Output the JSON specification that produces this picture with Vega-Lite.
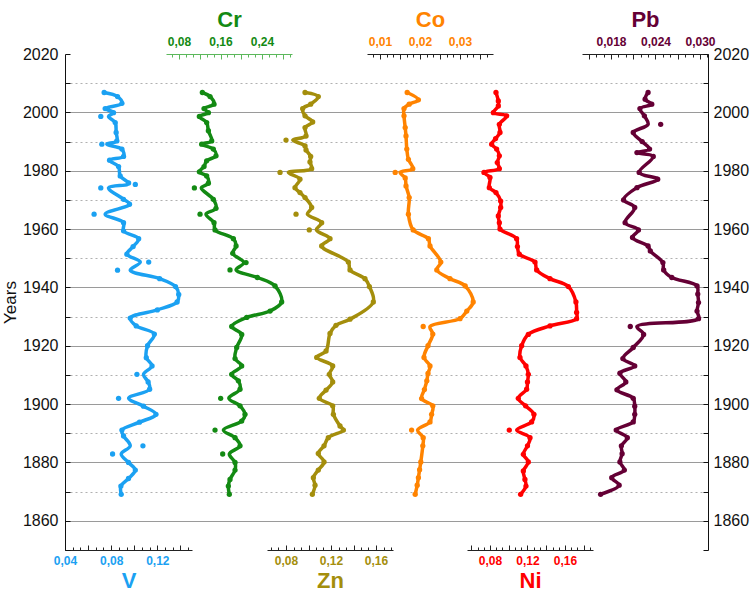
{
"$schema":"https://vega.github.io/schema/vega-lite/v6.json",
"width":643,"height":496,"autosize":"none",
"padding":{"left":65,"top":54,"right":44,"bottom":44},
"background":"white",
"config":{"view":{"stroke":null},
"axis":{"labelFont":"Liberation Sans","titleFont":"Liberation Sans","labelFlush":false,"labelOverlap":false,"labelBound":false,"domainColor":"#222","tickColor":"#222","grid":false},
"axisX":{"labelFontWeight":"bold","labelFontSize":12,"titleFontWeight":"bold","titleFontSize":22},
"axisY":{"labelFontSize":16,"labelColor":"#111","titleFontSize":17,"titleFontWeight":"normal","titleColor":"#111"}},
"datasets":{
"V":[{"year":1869.1,"value":0.0887,"fit":0.0887},{"year":1871.9,"value":0.0884,"fit":0.0884},{"year":1874.5,"value":0.095,"fit":0.095},{"year":1877.4,"value":0.1009,"fit":0.1009},{"year":1880.0,"value":0.095,"fit":0.095},{"year":1882.9,"value":0.0812,"fit":0.0887},{"year":1885.7,"value":0.1075,"fit":0.0965},{"year":1889.1,"value":0.0907,"fit":0.0907},{"year":1891.1,"value":0.0893,"fit":0.0893},{"year":1893.8,"value":0.1045,"fit":0.1045},{"year":1896.5,"value":0.1188,"fit":0.1188},{"year":1899.3,"value":0.108,"fit":0.108},{"year":1902.0,"value":0.0864,"fit":0.0951},{"year":1905.1,"value":0.1133,"fit":0.1133},{"year":1907.6,"value":0.112,"fit":0.112},{"year":1910.2,"value":0.1023,"fit":0.108},{"year":1913.1,"value":0.1154,"fit":0.1154},{"year":1915.9,"value":0.1104,"fit":0.1104},{"year":1920.0,"value":0.1115,"fit":0.1115},{"year":1924.0,"value":0.1174,"fit":0.1174},{"year":1926.8,"value":0.1017,"fit":0.1017},{"year":1929.5,"value":0.0965,"fit":0.0965},{"year":1932.3,"value":0.12,"fit":0.12},{"year":1935.0,"value":0.1371,"fit":0.1371},{"year":1937.6,"value":0.1385,"fit":0.1385},{"year":1940.3,"value":0.1357,"fit":0.1357},{"year":1943.0,"value":0.122,"fit":0.122},{"year":1945.9,"value":0.0855,"fit":0.0965},{"year":1948.7,"value":0.1125,"fit":0.1052},{"year":1951.4,"value":0.0936,"fit":0.0936},{"year":1954.0,"value":0.099,"fit":0.099},{"year":1956.7,"value":0.1038,"fit":0.1038},{"year":1959.4,"value":0.0907,"fit":0.0907},{"year":1962.2,"value":0.0907,"fit":0.0907},{"year":1965.1,"value":0.0652,"fit":0.0748},{"year":1968.5,"value":0.0959,"fit":0.0959},{"year":1970.2,"value":0.0907,"fit":0.0907},{"year":1974.1,"value":0.071,"fit":0.0777},{"year":1975.3,"value":0.1009,"fit":0.094},{"year":1975.8,"value":0.0951,"fit":0.0951},{"year":1978.2,"value":0.0878,"fit":0.0878},{"year":1981.4,"value":0.0864,"fit":0.0864},{"year":1983.6,"value":0.0786,"fit":0.0786},{"year":1984.9,"value":0.0907,"fit":0.0907},{"year":1987.4,"value":0.0893,"fit":0.0893},{"year":1989.1,"value":0.0719,"fit":0.0762},{"year":1990.2,"value":0.0849,"fit":0.0849},{"year":1993.1,"value":0.0843,"fit":0.0843},{"year":1996.5,"value":0.0835,"fit":0.0835},{"year":1998.6,"value":0.071,"fit":0.0777},{"year":1999.9,"value":0.082,"fit":0.082},{"year":2001.3,"value":0.0748,"fit":0.0748},{"year":2003.1,"value":0.0893,"fit":0.0893},{"year":2005.4,"value":0.0855,"fit":0.0855},{"year":2006.8,"value":0.0739,"fit":0.0739}],
"Cr":[{"year":1869.1,"value":0.177,"fit":0.177},{"year":1871.9,"value":0.1751,"fit":0.1751},{"year":1874.2,"value":0.1783,"fit":0.1783},{"year":1877.4,"value":0.188,"fit":0.188},{"year":1880.0,"value":0.188,"fit":0.188},{"year":1882.9,"value":0.1642,"fit":0.177},{"year":1885.7,"value":0.1976,"fit":0.1976},{"year":1888.5,"value":0.188,"fit":0.188},{"year":1891.1,"value":0.1494,"fit":0.1655},{"year":1894.2,"value":0.2008,"fit":0.2008},{"year":1896.5,"value":0.2072,"fit":0.2072},{"year":1899.4,"value":0.1976,"fit":0.1976},{"year":1902.0,"value":0.1603,"fit":0.176},{"year":1905.1,"value":0.1976,"fit":0.1976},{"year":1908.0,"value":0.1944,"fit":0.1944},{"year":1910.2,"value":0.1815,"fit":0.1815},{"year":1913.1,"value":0.2008,"fit":0.2008},{"year":1915.6,"value":0.188,"fit":0.188},{"year":1919.4,"value":0.1912,"fit":0.1912},{"year":1923.9,"value":0.2009,"fit":0.2009},{"year":1926.6,"value":0.1816,"fit":0.1816},{"year":1929.7,"value":0.2105,"fit":0.2105},{"year":1931.9,"value":0.2555,"fit":0.2555},{"year":1935.0,"value":0.2779,"fit":0.2779},{"year":1940.5,"value":0.2651,"fit":0.2651},{"year":1943.4,"value":0.231,"fit":0.231},{"year":1946.0,"value":0.1783,"fit":0.19},{"year":1948.5,"value":0.2092,"fit":0.205},{"year":1951.7,"value":0.1835,"fit":0.1835},{"year":1954.2,"value":0.19,"fit":0.19},{"year":1956.7,"value":0.1848,"fit":0.1848},{"year":1959.7,"value":0.1494,"fit":0.1494},{"year":1962.2,"value":0.1475,"fit":0.1475},{"year":1965.1,"value":0.1205,"fit":0.132},{"year":1967.1,"value":0.1513,"fit":0.1513},{"year":1970.2,"value":0.1462,"fit":0.1462},{"year":1974.1,"value":0.1096,"fit":0.123},{"year":1975.7,"value":0.1366,"fit":0.1366},{"year":1978.2,"value":0.1333,"fit":0.1333},{"year":1979.6,"value":0.1192,"fit":0.1192},{"year":1981.4,"value":0.1282,"fit":0.1282},{"year":1983.4,"value":0.1333,"fit":0.1333},{"year":1985.1,"value":0.1513,"fit":0.1513},{"year":1987.4,"value":0.1462,"fit":0.1462},{"year":1989.1,"value":0.1237,"fit":0.1237},{"year":1990.2,"value":0.143,"fit":0.143},{"year":1993.7,"value":0.1366,"fit":0.1366},{"year":1996.5,"value":0.1333,"fit":0.1333},{"year":1998.6,"value":0.1192,"fit":0.1192},{"year":1999.9,"value":0.1366,"fit":0.1366},{"year":2001.3,"value":0.1282,"fit":0.1282},{"year":2002.8,"value":0.1475,"fit":0.1475},{"year":2005.4,"value":0.1398,"fit":0.1398},{"year":2006.8,"value":0.125,"fit":0.125}],
"Zn":[{"year":1869.1,"value":0.1034,"fit":0.1034},{"year":1872.2,"value":0.1058,"fit":0.1058},{"year":1874.8,"value":0.1043,"fit":0.1043},{"year":1877.4,"value":0.1087,"fit":0.1087},{"year":1880.2,"value":0.1138,"fit":0.1138},{"year":1883.1,"value":0.1087,"fit":0.1087},{"year":1885.7,"value":0.1138,"fit":0.1138},{"year":1888.5,"value":0.1176,"fit":0.1176},{"year":1891.1,"value":0.131,"fit":0.131},{"year":1892.5,"value":0.128,"fit":0.128},{"year":1896.5,"value":0.1221,"fit":0.1221},{"year":1899.4,"value":0.1215,"fit":0.1215},{"year":1902.0,"value":0.1096,"fit":0.1096},{"year":1904.8,"value":0.1156,"fit":0.1156},{"year":1907.6,"value":0.1215,"fit":0.1215},{"year":1910.2,"value":0.1185,"fit":0.1185},{"year":1913.1,"value":0.1215,"fit":0.1215},{"year":1916.0,"value":0.1073,"fit":0.1073},{"year":1918.2,"value":0.1156,"fit":0.1156},{"year":1924.2,"value":0.1191,"fit":0.1191},{"year":1927.0,"value":0.1244,"fit":0.1244},{"year":1929.1,"value":0.1369,"fit":0.1369},{"year":1935.0,"value":0.1576,"fit":0.1576},{"year":1940.3,"value":0.1541,"fit":0.1541},{"year":1943.0,"value":0.1502,"fit":0.1502},{"year":1946.0,"value":0.1369,"fit":0.1369},{"year":1948.7,"value":0.1354,"fit":0.1354},{"year":1954.2,"value":0.1117,"fit":0.1117},{"year":1956.7,"value":0.1191,"fit":0.1191},{"year":1959.7,"value":0.1007,"fit":0.107},{"year":1962.2,"value":0.1117,"fit":0.1117},{"year":1965.1,"value":0.0889,"fit":0.099},{"year":1967.4,"value":0.1028,"fit":0.1028},{"year":1970.8,"value":0.0969,"fit":0.0969},{"year":1972.5,"value":0.0924,"fit":0.0924},{"year":1974.2,"value":0.088,"fit":0.088},{"year":1977.1,"value":0.0924,"fit":0.0924},{"year":1979.4,"value":0.0747,"fit":0.0821},{"year":1980.7,"value":0.1028,"fit":0.1028},{"year":1983.0,"value":0.1013,"fit":0.1013},{"year":1984.9,"value":0.1019,"fit":0.1019},{"year":1987.1,"value":0.0978,"fit":0.0978},{"year":1988.5,"value":0.0969,"fit":0.0969},{"year":1990.5,"value":0.08,"fit":0.086},{"year":1991.9,"value":0.0978,"fit":0.0978},{"year":1994.8,"value":0.0969,"fit":0.0969},{"year":1996.7,"value":0.1037,"fit":0.1037},{"year":1998.8,"value":0.0969,"fit":0.0969},{"year":2001.3,"value":0.0948,"fit":0.0948},{"year":2002.8,"value":0.1019,"fit":0.1019},{"year":2005.4,"value":0.1087,"fit":0.1087},{"year":2006.8,"value":0.0969,"fit":0.0969}],
"Co":[{"year":1869.1,"value":0.0188,"fit":0.0188},{"year":1872.2,"value":0.0193,"fit":0.0193},{"year":1874.8,"value":0.0196,"fit":0.0196},{"year":1877.5,"value":0.0199,"fit":0.0199},{"year":1880.2,"value":0.0202,"fit":0.0202},{"year":1885.7,"value":0.0207,"fit":0.0207},{"year":1888.5,"value":0.0208,"fit":0.0208},{"year":1891.1,"value":0.0179,"fit":0.0194},{"year":1893.9,"value":0.0225,"fit":0.0225},{"year":1896.5,"value":0.0229,"fit":0.0229},{"year":1899.4,"value":0.0232,"fit":0.0232},{"year":1901.9,"value":0.0204,"fit":0.0204},{"year":1905.0,"value":0.0211,"fit":0.0211},{"year":1908.0,"value":0.0217,"fit":0.0217},{"year":1910.5,"value":0.022,"fit":0.022},{"year":1913.1,"value":0.0225,"fit":0.0225},{"year":1916.0,"value":0.021,"fit":0.021},{"year":1920.0,"value":0.022,"fit":0.022},{"year":1924.0,"value":0.0232,"fit":0.0232},{"year":1926.6,"value":0.0208,"fit":0.0225},{"year":1929.3,"value":0.03,"fit":0.03},{"year":1931.9,"value":0.0317,"fit":0.0317},{"year":1935.0,"value":0.0333,"fit":0.0333},{"year":1940.5,"value":0.0313,"fit":0.0313},{"year":1943.0,"value":0.0275,"fit":0.0275},{"year":1946.0,"value":0.0242,"fit":0.0242},{"year":1948.7,"value":0.0252,"fit":0.0252},{"year":1954.2,"value":0.0225,"fit":0.0225},{"year":1956.7,"value":0.0221,"fit":0.0221},{"year":1959.7,"value":0.0183,"fit":0.0183},{"year":1965.1,"value":0.0171,"fit":0.0171},{"year":1970.8,"value":0.0173,"fit":0.0173},{"year":1974.8,"value":0.0165,"fit":0.0165},{"year":1977.5,"value":0.0163,"fit":0.0163},{"year":1979.4,"value":0.0138,"fit":0.015},{"year":1980.7,"value":0.0182,"fit":0.0182},{"year":1983.9,"value":0.0171,"fit":0.0171},{"year":1987.4,"value":0.0167,"fit":0.0167},{"year":1991.9,"value":0.0165,"fit":0.0165},{"year":1994.8,"value":0.0163,"fit":0.0163},{"year":1998.8,"value":0.016,"fit":0.016},{"year":2001.3,"value":0.016,"fit":0.016},{"year":2002.8,"value":0.0173,"fit":0.0173},{"year":2004.3,"value":0.0196,"fit":0.0196},{"year":2006.8,"value":0.0168,"fit":0.0168}],
"Ni":[{"year":1869.1,"value":0.1127,"fit":0.1127},{"year":1871.9,"value":0.1184,"fit":0.1184},{"year":1874.2,"value":0.1173,"fit":0.1173},{"year":1877.1,"value":0.1156,"fit":0.1156},{"year":1880.2,"value":0.1209,"fit":0.1209},{"year":1882.8,"value":0.1156,"fit":0.1156},{"year":1885.7,"value":0.12,"fit":0.12},{"year":1888.5,"value":0.1227,"fit":0.1227},{"year":1891.1,"value":0.1006,"fit":0.1085},{"year":1893.9,"value":0.1244,"fit":0.1244},{"year":1896.5,"value":0.1269,"fit":0.1269},{"year":1899.4,"value":0.118,"fit":0.118},{"year":1902.0,"value":0.1102,"fit":0.1102},{"year":1905.1,"value":0.1191,"fit":0.1191},{"year":1907.6,"value":0.12,"fit":0.12},{"year":1910.2,"value":0.1209,"fit":0.1209},{"year":1913.1,"value":0.1184,"fit":0.1184},{"year":1916.0,"value":0.112,"fit":0.112},{"year":1920.0,"value":0.1138,"fit":0.1138},{"year":1923.9,"value":0.1209,"fit":0.1209},{"year":1926.8,"value":0.144,"fit":0.144},{"year":1929.3,"value":0.1724,"fit":0.1724},{"year":1931.4,"value":0.1724,"fit":0.1724},{"year":1935.0,"value":0.1717,"fit":0.1717},{"year":1940.3,"value":0.1636,"fit":0.1636},{"year":1943.0,"value":0.144,"fit":0.144},{"year":1946.0,"value":0.1298,"fit":0.1298},{"year":1948.7,"value":0.128,"fit":0.128},{"year":1951.4,"value":0.1113,"fit":0.1113},{"year":1954.0,"value":0.1093,"fit":0.1093},{"year":1956.7,"value":0.1084,"fit":0.1084},{"year":1960.0,"value":0.0907,"fit":0.0907},{"year":1962.2,"value":0.09,"fit":0.09},{"year":1964.5,"value":0.0889,"fit":0.0889},{"year":1967.4,"value":0.0914,"fit":0.0914},{"year":1969.6,"value":0.0914,"fit":0.0914},{"year":1972.5,"value":0.0864,"fit":0.0864},{"year":1974.2,"value":0.0793,"fit":0.0793},{"year":1977.7,"value":0.08,"fit":0.08},{"year":1979.4,"value":0.0736,"fit":0.0736},{"year":1980.7,"value":0.09,"fit":0.09},{"year":1982.8,"value":0.0878,"fit":0.0878},{"year":1985.1,"value":0.09,"fit":0.09},{"year":1987.4,"value":0.0871,"fit":0.0871},{"year":1989.1,"value":0.0818,"fit":0.0818},{"year":1991.0,"value":0.086,"fit":0.086},{"year":1993.1,"value":0.0907,"fit":0.0907},{"year":1995.9,"value":0.09,"fit":0.09},{"year":1998.8,"value":0.0978,"fit":0.0978},{"year":1999.9,"value":0.0836,"fit":0.0836},{"year":2002.2,"value":0.0889,"fit":0.0889},{"year":2003.9,"value":0.0889,"fit":0.0889},{"year":2006.8,"value":0.0864,"fit":0.0864}],
"Pb":[{"year":1869.1,"value":0.0166,"fit":0.0166},{"year":1872.2,"value":0.0191,"fit":0.0191},{"year":1874.8,"value":0.0181,"fit":0.0181},{"year":1877.4,"value":0.0198,"fit":0.0198},{"year":1880.2,"value":0.0192,"fit":0.0192},{"year":1883.0,"value":0.0195,"fit":0.0195},{"year":1885.7,"value":0.0194,"fit":0.0194},{"year":1888.5,"value":0.0202,"fit":0.0202},{"year":1891.1,"value":0.0187,"fit":0.0187},{"year":1893.9,"value":0.021,"fit":0.021},{"year":1896.5,"value":0.0212,"fit":0.0212},{"year":1899.3,"value":0.0212,"fit":0.0212},{"year":1902.0,"value":0.021,"fit":0.021},{"year":1904.9,"value":0.0188,"fit":0.0188},{"year":1907.6,"value":0.02,"fit":0.02},{"year":1910.6,"value":0.0192,"fit":0.0192},{"year":1913.1,"value":0.0212,"fit":0.0212},{"year":1915.6,"value":0.0196,"fit":0.0196},{"year":1919.4,"value":0.021,"fit":0.021},{"year":1923.9,"value":0.0224,"fit":0.0224},{"year":1926.6,"value":0.0206,"fit":0.0215},{"year":1929.3,"value":0.0298,"fit":0.0298},{"year":1931.9,"value":0.0296,"fit":0.0296},{"year":1934.8,"value":0.0298,"fit":0.0298},{"year":1937.7,"value":0.0297,"fit":0.0297},{"year":1940.5,"value":0.0296,"fit":0.0296},{"year":1943.4,"value":0.0262,"fit":0.0262},{"year":1946.0,"value":0.0251,"fit":0.0251},{"year":1948.5,"value":0.025,"fit":0.025},{"year":1952.5,"value":0.0233,"fit":0.0233},{"year":1954.2,"value":0.023,"fit":0.023},{"year":1957.1,"value":0.0209,"fit":0.0209},{"year":1959.7,"value":0.0217,"fit":0.0217},{"year":1962.2,"value":0.0199,"fit":0.0199},{"year":1967.4,"value":0.0212,"fit":0.0212},{"year":1970.0,"value":0.0197,"fit":0.0197},{"year":1974.2,"value":0.0215,"fit":0.0215},{"year":1977.1,"value":0.0243,"fit":0.0243},{"year":1979.4,"value":0.0218,"fit":0.0218},{"year":1984.9,"value":0.0237,"fit":0.0237},{"year":1986.2,"value":0.0215,"fit":0.0215},{"year":1987.4,"value":0.0232,"fit":0.0232},{"year":1990.0,"value":0.0222,"fit":0.0222},{"year":1993.1,"value":0.021,"fit":0.021},{"year":1995.9,"value":0.0247,"fit":0.023},{"year":1998.8,"value":0.0225,"fit":0.0225},{"year":2001.3,"value":0.0219,"fit":0.0219},{"year":2002.8,"value":0.0235,"fit":0.0235},{"year":2004.5,"value":0.0226,"fit":0.0226},{"year":2006.8,"value":0.023,"fit":0.023}]
},
"layer":[
{"data":{"name":"V"},"mark":{"type":"point","opacity":0},
 "encoding":{"y":{"field":"year","type":"quantitative","scale":{"domain":[1850,2020],"nice":false,"zero":false},
   "axis":{"orient":"left","values":[1860,1880,1900,1920,1940,1960,1980,2000],"grid":true,"gridColor":"#9a9a9a","gridWidth":1,"labels":false,"ticks":false,"domain":false,"title":null}}}},
{"data":{"name":"V"},"mark":{"type":"point","opacity":0},
 "encoding":{"y":{"field":"year","type":"quantitative","scale":{"domain":[1850,2020],"nice":false,"zero":false},
   "axis":{"orient":"left","values":[1870,1890,1910,1930,1950,1970,1990,2010],"grid":true,"gridColor":"#b0b0b0","gridDash":[2,3],"gridWidth":1,"labels":false,"ticks":false,"domain":false,"title":null}}}},
{"data":{"name":"V"},
 "encoding":{"y":{"field":"year","type":"quantitative","scale":{"domain":[1850,2020],"nice":false,"zero":false},
   "axis":{"orient":"left","values":[1850,1860,1870,1880,1890,1900,1910,1920,1930,1940,1950,1960,1970,1980,1990,2000,2010,2020],"format":"d","labelExpr":"datum.value%20==0?datum.label:''","tickSize":-5,"labelPadding":12,"title":"Years","titlePadding":3,"titleFontSize":17,"domainColor":"#111","tickColor":"#111"}}},
 "layer":[
  {"mark":{"type":"line","interpolate":"catmull-rom","strokeWidth":3.5,"color":"#1ba1f2"},
   "encoding":{"x":{"field":"fit","type":"quantitative","scale":{"domain":[0.04,0.15],"range":[0,127],"nice":false,"zero":false},
     "axis":{"orient":"bottom","values":[0.04,0.06,0.08,0.1,0.12,0.14],"labelExpr":"round(datum.value*100)%4==0?replace(format(datum.value,'.2f'),'.',','):''","tickSize":-5,"labelPadding":10,"title":"V","titlePadding":4,"labelColor":"#1ba1f2","titleColor":"#1ba1f2"}},
    "order":{"field":"year","type":"quantitative"}}},
  {"mark":{"type":"circle","size":28,"opacity":1,"color":"#1ba1f2"},
   "encoding":{"x":{"field":"value","type":"quantitative","scale":{"domain":[0.04,0.15],"range":[0,127],"nice":false,"zero":false},
     "axis":{"orient":"bottom","values":[0.0467,0.0533,0.0667,0.0733,0.0867,0.0933,0.1067,0.1133,0.1267,0.1333,0.1467],"labels":false,"domain":false,"tickSize":-3,"title":null}}}}
 ],
 "resolve":{"axis":{"x":"independent"}}},
{"data":{"name":"Cr"},
 "encoding":{"y":{"field":"year","type":"quantitative","scale":{"domain":[1850,2020],"nice":false,"zero":false},
   "axis":{"orient":"right","values":[1850,1860,1870,1880,1890,1900,1910,1920,1930,1940,1950,1960,1970,1980,1990,2000,2010,2020],"format":"d","labelExpr":"datum.value%20==0?datum.label:''","tickSize":-5,"labelPadding":10,"title":null,"domainColor":"#111","tickColor":"#111"}}},
 "layer":[
  {"mark":{"type":"line","interpolate":"catmull-rom","strokeWidth":3.5,"color":"#138a13"},
   "encoding":{"x":{"field":"fit","type":"quantitative","scale":{"domain":[0.0549,0.2978],"range":[101,227],"nice":false,"zero":false},
     "axis":{"orient":"top","values":[0.08,0.12,0.16,0.2,0.24,0.28],"labelExpr":"round(datum.value*100)%8==0?replace(format(datum.value,'.2f'),'.',','):''","tickSize":-5,"labelPadding":11,"title":"Cr","titlePadding":4,"labelColor":"#138a13","titleColor":"#138a13","domainColor":"#5cb85c","tickColor":"#5cb85c"}},
    "order":{"field":"year","type":"quantitative"}}},
  {"mark":{"type":"circle","size":28,"opacity":1,"color":"#138a13"},
   "encoding":{"x":{"field":"value","type":"quantitative","scale":{"domain":[0.0549,0.2978],"range":[101,227],"nice":false,"zero":false},
     "axis":{"orient":"top","values":[0.0667,0.0933,0.1067,0.1333,0.1467,0.1733,0.1867,0.2133,0.2267,0.2533,0.2667,0.2933],"labels":false,"domain":false,"tickSize":-3,"title":null,"tickColor":"#5cb85c"}}}}
 ],
 "resolve":{"axis":{"x":"independent"}}},
{"data":{"name":"Zn"},
 "encoding":{"y":{"field":"year","type":"quantitative","scale":{"domain":[1850,2020],"nice":false,"zero":false},"axis":null}},
 "layer":[
  {"mark":{"type":"line","interpolate":"catmull-rom","strokeWidth":3.5,"color":"#a48e0c"},
   "encoding":{"x":{"field":"fit","type":"quantitative","scale":{"domain":[0.0631,0.1751],"range":[202,328],"nice":false,"zero":false},
     "axis":{"orient":"bottom","values":[0.08,0.1,0.12,0.14,0.16],"labelExpr":"round(datum.value*100)%4==0?replace(format(datum.value,'.2f'),'.',','):''","tickSize":-5,"labelPadding":10,"title":"Zn","titlePadding":4,"labelColor":"#a48e0c","titleColor":"#a48e0c"}},
    "order":{"field":"year","type":"quantitative"}}},
  {"mark":{"type":"circle","size":28,"opacity":1,"color":"#a48e0c"},
   "encoding":{"x":{"field":"value","type":"quantitative","scale":{"domain":[0.0631,0.1751],"range":[202,328],"nice":false,"zero":false},
     "axis":{"orient":"bottom","values":[0.0667,0.0733,0.0867,0.0933,0.1067,0.1133,0.1267,0.1333,0.1467,0.1533,0.1667,0.1733],"labels":false,"domain":false,"tickSize":-3,"title":null}}}}
 ],
 "resolve":{"axis":{"x":"independent"}}},
{"data":{"name":"Co"},
 "encoding":{"y":{"field":"year","type":"quantitative","scale":{"domain":[1850,2020],"nice":false,"zero":false},"axis":null}},
 "layer":[
  {"mark":{"type":"line","interpolate":"catmull-rom","strokeWidth":3.5,"color":"#ff8300"},
   "encoding":{"x":{"field":"fit","type":"quantitative","scale":{"domain":[0.00675,0.03825],"range":[302,428],"nice":false,"zero":false},
     "axis":{"orient":"top","values":[0.01,0.015,0.02,0.025,0.03,0.035],"labelExpr":"round(datum.value*1000)%10==0?replace(format(datum.value,'.2f'),'.',','):''","tickSize":-5,"labelPadding":11,"title":"Co","titlePadding":4,"labelColor":"#ff8300","titleColor":"#ff8300"}},
    "order":{"field":"year","type":"quantitative"}}},
  {"mark":{"type":"circle","size":28,"opacity":1,"color":"#ff8300"},
   "encoding":{"x":{"field":"value","type":"quantitative","scale":{"domain":[0.00675,0.03825],"range":[302,428],"nice":false,"zero":false},
     "axis":{"orient":"top","values":[0.00833,0.01167,0.01333,0.01667,0.01833,0.02167,0.02333,0.02667,0.02833,0.03167,0.03333,0.03667],"labels":false,"domain":false,"tickSize":-3,"title":null}}}}
 ],
 "resolve":{"axis":{"x":"independent"}}},
{"data":{"name":"Ni"},
 "encoding":{"y":{"field":"year","type":"quantitative","scale":{"domain":[1850,2020],"nice":false,"zero":false},"axis":null}},
 "layer":[
  {"mark":{"type":"line","interpolate":"catmull-rom","strokeWidth":3.5,"color":"#ff0000"},
   "encoding":{"x":{"field":"fit","type":"quantitative","scale":{"domain":[0.0555,0.1899],"range":[402,528],"nice":false,"zero":false},
     "axis":{"orient":"bottom","values":[0.06,0.08,0.1,0.12,0.14,0.16,0.18],"labelExpr":"round(datum.value*100)%4==0?replace(format(datum.value,'.2f'),'.',','):''","tickSize":-5,"labelPadding":10,"title":"Ni","titlePadding":4,"labelColor":"#ff0000","titleColor":"#ff0000"}},
    "order":{"field":"year","type":"quantitative"}}},
  {"mark":{"type":"circle","size":28,"opacity":1,"color":"#ff0000"},
   "encoding":{"x":{"field":"value","type":"quantitative","scale":{"domain":[0.0555,0.1899],"range":[402,528],"nice":false,"zero":false},
     "axis":{"orient":"bottom","values":[0.0667,0.0733,0.0867,0.0933,0.1067,0.1133,0.1267,0.1333,0.1467,0.1533,0.1667,0.1733,0.1867],"labels":false,"domain":false,"tickSize":-3,"title":null}}}}
 ],
 "resolve":{"axis":{"x":"independent"}}},
{"data":{"name":"Pb"},
 "encoding":{"y":{"field":"year","type":"quantitative","scale":{"domain":[1850,2020],"nice":false,"zero":false},"axis":null}},
 "layer":[
  {"mark":{"type":"line","interpolate":"catmull-rom","strokeWidth":3.5,"color":"#650035"},
   "encoding":{"x":{"field":"fit","type":"quantitative","scale":{"domain":[0.01409,0.03108],"range":[517,643],"nice":false,"zero":false},
     "axis":{"orient":"top","values":[0.015,0.018,0.021,0.024,0.027,0.03],"labelExpr":"round(datum.value*1000)%6==0?replace(format(datum.value,'.3f'),'.',','):''","tickSize":-5,"labelPadding":11,"title":"Pb","titlePadding":4,"labelColor":"#650035","titleColor":"#650035"}},
    "order":{"field":"year","type":"quantitative"}}},
  {"mark":{"type":"circle","size":28,"opacity":1,"color":"#650035"},
   "encoding":{"x":{"field":"value","type":"quantitative","scale":{"domain":[0.01409,0.03108],"range":[517,643],"nice":false,"zero":false},
     "axis":{"orient":"top","values":[0.016,0.017,0.019,0.02,0.022,0.023,0.025,0.026,0.028,0.029,0.031],"labels":false,"domain":false,"tickSize":-3,"title":null}}}}
 ],
 "resolve":{"axis":{"x":"independent"}}}
],
"resolve":{"scale":{"x":"independent"},"axis":{"x":"independent","y":"independent"}}
}
